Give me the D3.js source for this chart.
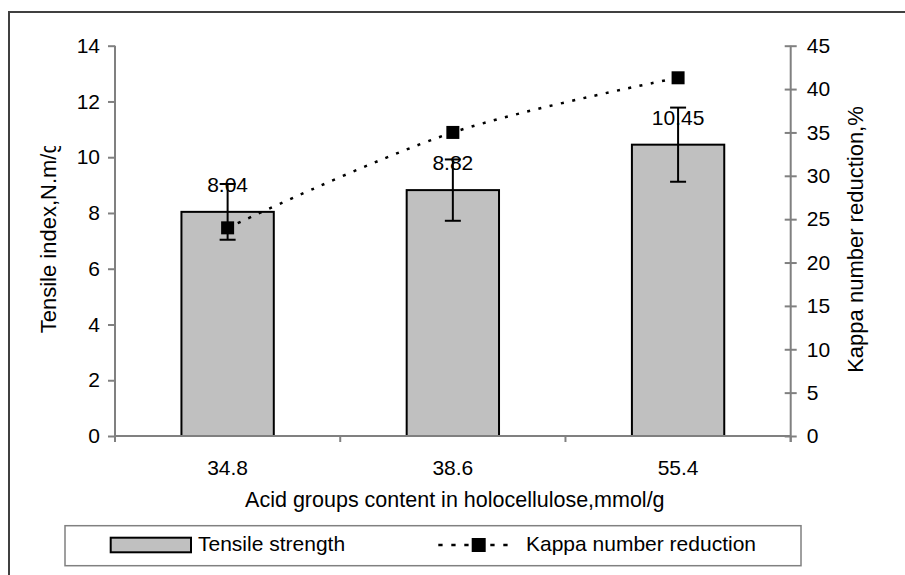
<!DOCTYPE html>
<html>
<head>
<meta charset="utf-8">
<script src="https://cdn.jsdelivr.net/npm/d3@7"></script>
<style>
  html, body { margin: 0; padding: 0; background: #fff; }
  svg { display: block; font-family: "Liberation Sans", Arial, sans-serif; }
</style>
</head>
<body>
<svg id="chart" width="905" height="575"></svg>
<script>
// ---- data ----
const categories = ["34.8", "38.6", "55.4"];
const tensile = [8.04, 8.82, 10.45];
const tensileErr = [1.0, 1.1, 1.33];
const tensileLabels = ["8.04", "8.82", "10.45"];
const kappa = [24, 35, 41.3];
const leftTicks = [0, 2, 4, 6, 8, 10, 12, 14];
const rightTicks = [0, 5, 10, 15, 20, 25, 30, 35, 40, 45];
const xTitle = "Acid groups content in holocellulose,mmol/g";
const yLeftTitle = "Tensile index,N.m/g";
const yRightTitle = "Kappa number reduction,%";
const legendNames = ["Tensile strength", "Kappa number reduction"];

// ---- layout ----
const svg = d3.select("#chart");
const plot = { left: 115, right: 790.7, top: 45.7, bottom: 436 };
const axisColor = "#808080";
const fs = 21;

const x = d3.scaleBand().domain(categories)
  .range([plot.left, plot.right]).paddingInner(0.59).paddingOuter(0.295);
const yL = d3.scaleLinear().domain([0, 14]).range([plot.bottom, plot.top]);
const yR = d3.scaleLinear().domain([0, 45]).range([plot.bottom, plot.top]);
const cx = c => x(c) + x.bandwidth() / 2;

// outer border (cropped: only top/left visible)
svg.append("rect").attr("x", 9).attr("y", 12).attr("width", 1000).attr("height", 1000)
  .attr("fill", "none").attr("stroke", "#404040").attr("stroke-width", 2);

// bars
svg.append("g").selectAll("rect").data(categories).join("rect")
  .attr("x", d => x(d)).attr("width", x.bandwidth())
  .attr("y", (d, i) => yL(tensile[i]))
  .attr("height", (d, i) => yL(0) - yL(tensile[i]))
  .attr("fill", "#c0c0c0").attr("stroke", "#000").attr("stroke-width", 2);

// axes
const gL = svg.append("g").attr("transform", `translate(${plot.left},0)`)
  .call(d3.axisLeft(yL).tickValues(leftTicks).tickSize(7).tickPadding(8).tickFormat(d3.format("d")));
const gR = svg.append("g").attr("transform", `translate(${plot.right},0)`)
  .call(d3.axisRight(yR).tickValues(rightTicks).tickSize(6).tickPadding(10).tickFormat(d3.format("d")));
[gL, gR].forEach(g => {
  g.select(".domain").attr("stroke", axisColor).attr("stroke-width", 2)
    .attr("d", `M0,${plot.top}V${plot.bottom + 6}`);
  g.selectAll(".tick line").attr("stroke", axisColor).attr("stroke-width", 2);
  g.selectAll(".tick text").attr("font-size", fs).attr("fill", "#000")
    .attr("font-family", "Liberation Sans, Arial, sans-serif");
});
gR.selectAll(".tick line").attr("x1", -6);

// bottom axis
const gB = svg.append("g").attr("transform", `translate(0,${plot.bottom})`)
  .call(d3.axisBottom(x).tickSize(0).tickPadding(24));
gB.select(".domain").attr("stroke", axisColor).attr("stroke-width", 2)
  .attr("d", `M${plot.left},0H${plot.right}`);
gB.selectAll(".tick text").attr("font-size", fs).attr("fill", "#000")
  .attr("font-family", "Liberation Sans, Arial, sans-serif");
const bounds = categories.map(c => x(c) - x.step() * x.paddingInner() / 2).slice(1)
  .concat([plot.left, plot.right]);
gB.append("g").selectAll("line").data(bounds).join("line")
  .attr("x1", d => d).attr("x2", d => d).attr("y1", 0).attr("y2", 6)
  .attr("stroke", axisColor).attr("stroke-width", 2);

// value labels
svg.append("g").selectAll("text").data(categories).join("text")
  .attr("x", d => cx(d)).attr("y", (d, i) => yL(tensile[i]) - 20)
  .attr("text-anchor", "middle").attr("font-size", fs).text((d, i) => tensileLabels[i]);

// error bars
const eb = svg.append("g").attr("stroke", "#000").attr("stroke-width", 2);
categories.forEach((c, i) => {
  const hi = yL(tensile[i] + tensileErr[i]), lo = yL(tensile[i] - tensileErr[i]);
  eb.append("line").attr("x1", cx(c)).attr("x2", cx(c)).attr("y1", hi).attr("y2", lo);
  eb.append("line").attr("x1", cx(c) - 8).attr("x2", cx(c) + 8).attr("y1", hi).attr("y2", hi);
  eb.append("line").attr("x1", cx(c) - 8).attr("x2", cx(c) + 8).attr("y1", lo).attr("y2", lo);
});

// kappa line
const line = d3.line().x((d, i) => cx(categories[i])).y(d => yR(d)).curve(d3.curveCatmullRom.alpha(0.5));
svg.append("path").datum(kappa).attr("d", line).attr("fill", "none")
  .attr("stroke", "#000").attr("stroke-width", 2.5).attr("stroke-dasharray", "3,8.5");
const ms = 13;
svg.append("g").selectAll("rect").data(kappa).join("rect")
  .attr("x", (d, i) => cx(categories[i]) - ms / 2).attr("y", d => yR(d) - ms / 2)
  .attr("width", ms).attr("height", ms).attr("fill", "#000");

// axis titles
svg.append("text").attr("x", (plot.left + plot.right) / 2 + 2).attr("y", 507)
  .attr("text-anchor", "middle").attr("font-size", 21.5).text(xTitle);

svg.append("clipPath").attr("id", "clipL").append("rect")
  .attr("x", 0).attr("y", 146).attr("width", 110).attr("height", 400);
svg.append("g").attr("clip-path", "url(#clipL)")
  .append("text").attr("transform", "translate(56,333.3) rotate(-90)")
  .attr("text-anchor", "start").attr("font-size", 22).text(yLeftTitle);

svg.append("text").attr("transform", "translate(863,239.5) rotate(-90)")
  .attr("text-anchor", "middle").attr("font-size", 22).text(yRightTitle);

// legend
const lg = svg.append("g");
lg.append("rect").attr("x", 65).attr("y", 525.7).attr("width", 736).attr("height", 40)
  .attr("fill", "#fff").attr("stroke", "#808080").attr("stroke-width", 1.5);
lg.append("rect").attr("x", 110.7).attr("y", 537.7).attr("width", 80.3).attr("height", 14.6)
  .attr("fill", "#c0c0c0").attr("stroke", "#000").attr("stroke-width", 2);
lg.append("text").attr("x", 198).attr("y", 550.5).attr("font-size", fs).text(legendNames[0]);
lg.append("line").attr("x1", 438.3).attr("x2", 515).attr("y1", 545).attr("y2", 545)
  .attr("stroke", "#000").attr("stroke-width", 2.5).attr("stroke-dasharray", "4.3,8.7");
lg.append("rect").attr("x", 478.7 - 7).attr("y", 545 - 7).attr("width", 14).attr("height", 14)
  .attr("fill", "#000");
lg.append("text").attr("x", 526).attr("y", 550.5).attr("font-size", fs).text(legendNames[1]);
</script>
</body>
</html>
